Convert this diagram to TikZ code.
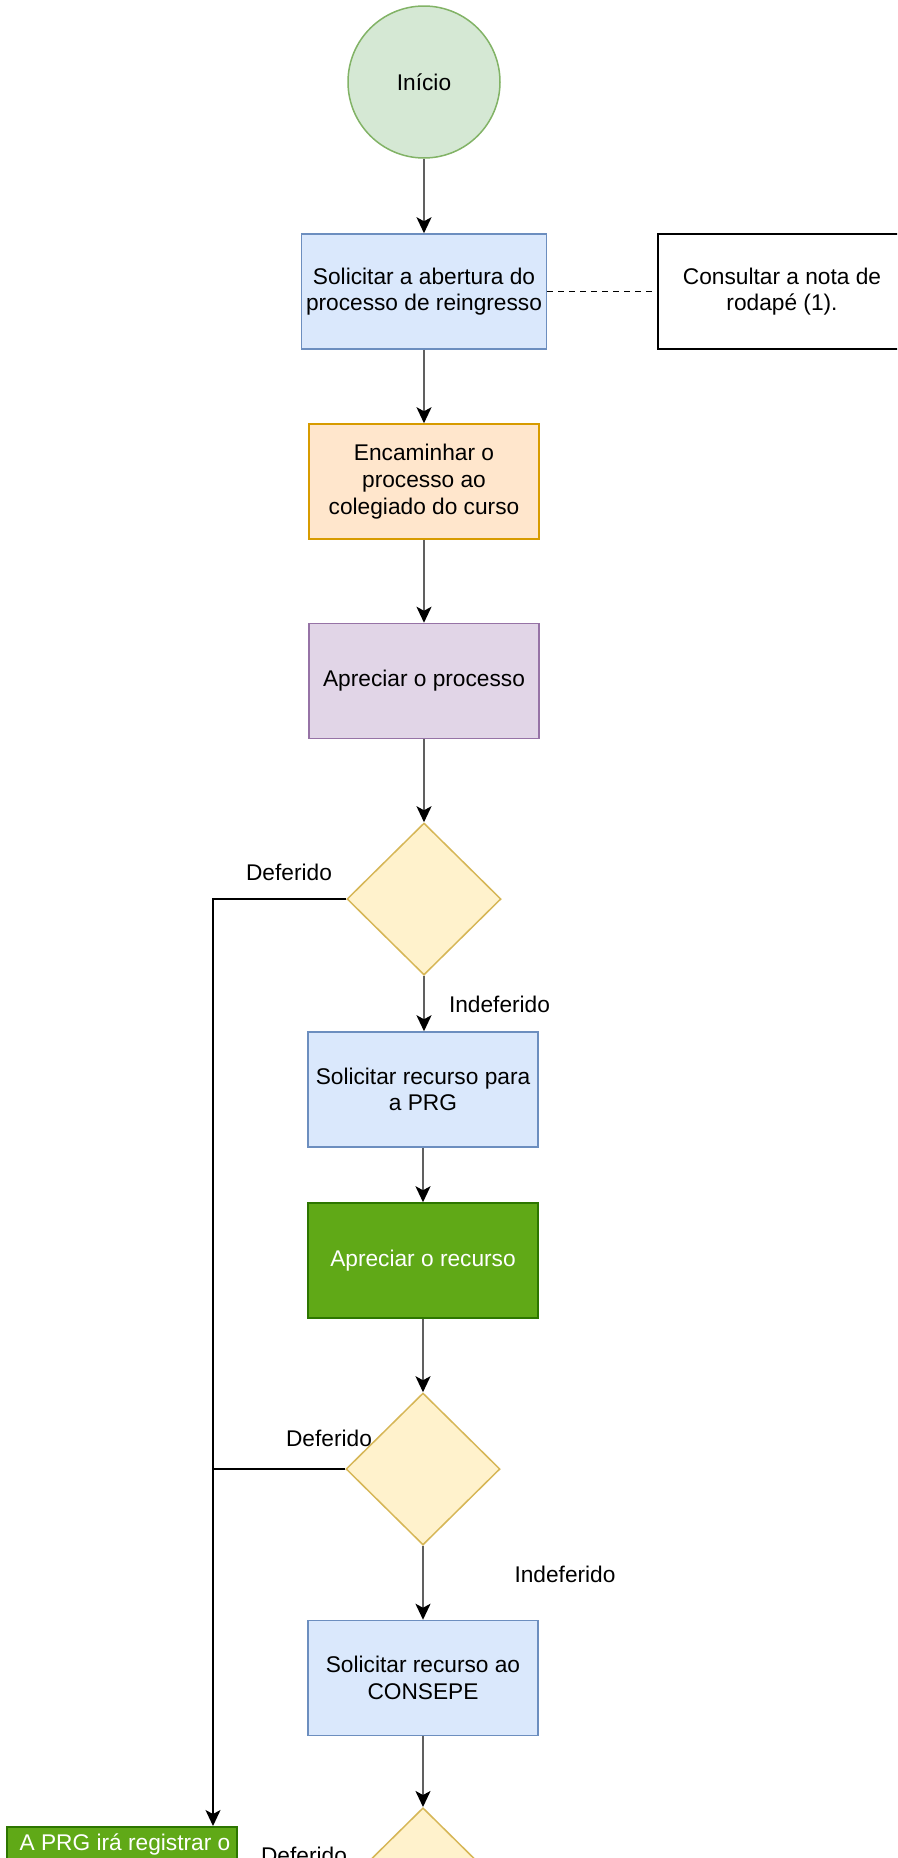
\documentclass[tikz,border=0pt]{standalone}
\usepackage{fontspec}
\setmainfont{Liberation Sans}
\usetikzlibrary{shapes.geometric,arrows.meta}
\definecolor{bluefill}{HTML}{DAE8FC}
\definecolor{bluedraw}{HTML}{6C8EBF}
\definecolor{orangefill}{HTML}{FFE6CC}
\definecolor{orangedraw}{HTML}{D79B00}
\definecolor{purplefill}{HTML}{E1D5E7}
\definecolor{purpledraw}{HTML}{9673A6}
\definecolor{greenfill}{HTML}{D5E8D4}
\definecolor{greendraw}{HTML}{82B366}
\definecolor{yellowfill}{HTML}{FFF2CC}
\definecolor{yellowdraw}{HTML}{D6B656}
\definecolor{dkgreenfill}{HTML}{60A917}
\definecolor{dkgreendraw}{HTML}{2D7600}
\definecolor{linegray}{HTML}{606060}
\begin{document}
\begin{tikzpicture}[x=1pt,y=-1pt,
  font=\fontsize{22.7}{26.7}\selectfont,
  procbox/.style={rectangle, draw, line width=1.5pt, minimum width=230pt, minimum height=115pt, align=center, inner sep=0pt},
  decision/.style={diamond, draw=yellowdraw, fill=yellowfill, line width=1.5pt, minimum width=154pt, minimum height=152pt, inner sep=0pt},
  flow/.style={draw=linegray, line width=1.9pt, -{Stealth[length=16pt,width=15pt,inset=4pt,black]}},
  yesline/.style={draw=black, line width=1.5pt},
  lbl/.style={anchor=base, inner sep=0pt}
]
\useasboundingbox (0,0) rectangle (897,1858);
\clip (0,0) rectangle (897,1858);
\fill[white] (0,0) rectangle (897,1858);

\node[circle, draw=greendraw, fill=greenfill, line width=1.5pt, minimum size=152pt, inner sep=0pt] (inicio) at (424,82) {Início};
\node[procbox, fill=bluefill, draw=bluedraw, minimum width=245pt] (b1) at (424,291.5) {Solicitar a abertura do\\processo de reingresso};
\node[procbox, fill=white, draw=black, minimum width=248pt] (note) at (782,291.5) {Consultar a nota de\\rodapé (1).};
\node[procbox, fill=orangefill, draw=orangedraw] (b2) at (424,481.5) {Encaminhar o\\processo ao\\colegiado do curso};
\node[procbox, fill=purplefill, draw=purpledraw] (b3) at (424,681) {Apreciar o processo};
\node[decision] (d1) at (424,899) {};
\node[procbox, fill=bluefill, draw=bluedraw] (b4) at (423,1089.5) {Solicitar recurso para\\a PRG};
\node[procbox, fill=dkgreenfill, draw=dkgreendraw, text=white] (b5) at (423,1260.5) {Apreciar o recurso};
\node[decision] (d2) at (423,1469) {};
\node[procbox, fill=bluefill, draw=bluedraw] (b6) at (423,1678) {Solicitar recurso ao\\CONSEPE};
\node[decision, anchor=north] (d3) at (423,1807) {};
\node[procbox, fill=dkgreenfill, draw=dkgreendraw, anchor=north] (g) at (122,1826) {};
\node[lbl, text=white] (gt) at (125,1850) {A PRG irá registrar o};

\draw[flow] (inicio) -- (b1);
\draw[black, line width=1.4pt, dash pattern=on 6pt off 5pt] (b1.east) -- (note.west);
\draw[flow] (b1) -- (b2);
\draw[flow] (b2) -- (b3);
\draw[flow] (b3) -- (d1);
\draw[flow] (d1.south) -- (d1.south |- b4.north);
\draw[flow] (b4) -- (b5);
\draw[flow] (b5) -- (d2);
\draw[flow] (d2) -- (b6);
\draw[flow] (b6) -- (d3);

\coordinate (j1) at (213,899);
\coordinate (j2) at (213,1469);
\draw[yesline, -{Stealth[length=16pt,width=15pt,inset=4pt]}] (d1.west) -- (j1) -- (j1 |- g.north);
\draw[yesline] (d2.west) -- (j2);

\node[lbl] (l1) at (289,880) {Deferido};
\node[lbl] (l2) at (499.5,1012) {Indeferido};
\node[lbl] (l3) at (329,1446) {Deferido};
\node[lbl] (l4) at (565,1582.5) {Indeferido};
\node[lbl] (l5) at (304,1863.5) {Deferido};
\end{tikzpicture}
\end{document}
